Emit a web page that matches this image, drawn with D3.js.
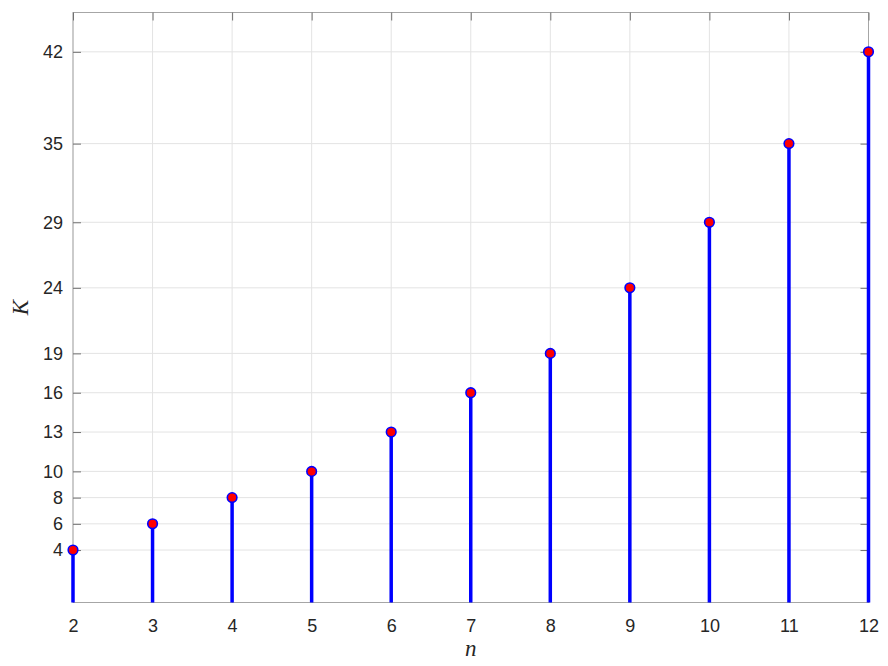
<!DOCTYPE html>
<html>
<head>
<meta charset="utf-8">
<script src="https://cdn.jsdelivr.net/npm/d3@7"></script>
<style>
body { margin: 0; background: #fff; }
text { font-family: "Liberation Sans", Arial, sans-serif; }
</style>
</head>
<body>
<div id="chart"></div>
<script>
// stem data
var nValues = [2, 3, 4, 5, 6, 7, 8, 9, 10, 11, 12]
var kValues = [4, 6, 8, 10, 13, 16, 19, 24, 29, 35, 42]
var xTicks = [2, 3, 4, 5, 6, 7, 8, 9, 10, 11, 12]
var yTicks = [4, 6, 8, 10, 13, 16, 19, 24, 29, 35, 42]

var W = 888, H = 666
var margin = {left: 73, right: 19.5, top: 12.5, bottom: 63.5}
var width = W - margin.left - margin.right
var height = H - margin.top - margin.bottom

var svg = d3.select("#chart").append("svg")
    .attr("width", W)
    .attr("height", H)
    .append("g")
    .attr("transform", "translate(" + margin.left + "," + margin.top + ")")

var x = d3.scaleLinear().domain([2, 12]).range([0, width])
var y = d3.scaleLinear().domain([0, 45]).range([height, 0])

var gridColor = "#e3e3e3"
var axisColor = "#a6a6a6"
var tickLen = 8

// grid lines
svg.append("g").selectAll("line")
    .data(xTicks)
    .enter().append("line")
    .attr("x1", d => x(d)).attr("x2", d => x(d))
    .attr("y1", 0).attr("y2", height)
    .attr("stroke", gridColor).attr("stroke-width", 1)

svg.append("g").selectAll("line")
    .data(yTicks)
    .enter().append("line")
    .attr("x1", 0).attr("x2", width)
    .attr("y1", d => y(d)).attr("y2", d => y(d))
    .attr("stroke", gridColor).attr("stroke-width", 1)

// box
svg.append("rect")
    .attr("width", width).attr("height", height)
    .attr("fill", "none").attr("stroke", axisColor).attr("stroke-width", 1)

// inward ticks (MATLAB style)
var xAxisB = d3.axisBottom(x).tickValues(xTicks).tickSize(-tickLen).tickPadding(17)
var xAxisT = d3.axisTop(x).tickValues(xTicks).tickSize(-tickLen).tickFormat("")
var yAxisL = d3.axisLeft(y).tickValues(yTicks).tickSize(-tickLen).tickPadding(10)
var yAxisR = d3.axisRight(y).tickValues(yTicks).tickSize(-tickLen).tickFormat("")

function style(g) {
    g.select(".domain").remove()
    g.selectAll(".tick line").attr("stroke", "#707070")
    g.selectAll(".tick text")
        .attr("fill", "#262626")
        .style("font-size", "18px")
        .style("font-family", "'Liberation Sans', Arial, sans-serif")
}

svg.append("g").attr("transform", "translate(0," + height + ")").call(xAxisB).call(style)
svg.append("g").call(xAxisT).call(style)
svg.append("g").call(yAxisL).call(style)
svg.append("g").attr("transform", "translate(" + width + ",0)").call(yAxisR).call(style)

// stems
var pts = nValues.map((n, i) => ({n: n, k: kValues[i]}))

svg.append("g").selectAll("line")
    .data(pts)
    .enter().append("line")
    .attr("x1", d => x(d.n)).attr("x2", d => x(d.n))
    .attr("y1", y(0)).attr("y2", d => y(d.k))
    .attr("stroke", "#0000ff").attr("stroke-width", 3.5)

svg.append("g").selectAll("circle")
    .data(pts)
    .enter().append("circle")
    .attr("cx", d => x(d.n)).attr("cy", d => y(d.k))
    .attr("r", 4.8)
    .attr("fill", "#ff0000")
    .attr("stroke", "#0000ff").attr("stroke-width", 1.6)

// axis labels
svg.append("text")
    .attr("x", width / 2).attr("y", height + 53)
    .attr("text-anchor", "middle")
    .style("font-family", "'Liberation Serif', 'DejaVu Serif', serif")
    .style("font-style", "italic")
    .style("font-size", "23px")
    .attr("fill", "#262626")
    .text("n")

svg.append("text")
    .attr("transform", "translate(" + (-45) + "," + (height / 2) + ")rotate(-90)")
    .attr("text-anchor", "middle")
    .style("font-family", "'Liberation Serif', 'DejaVu Serif', serif")
    .style("font-style", "italic")
    .style("font-size", "23px")
    .attr("fill", "#262626")
    .text("K")
</script>
</body>
</html>
